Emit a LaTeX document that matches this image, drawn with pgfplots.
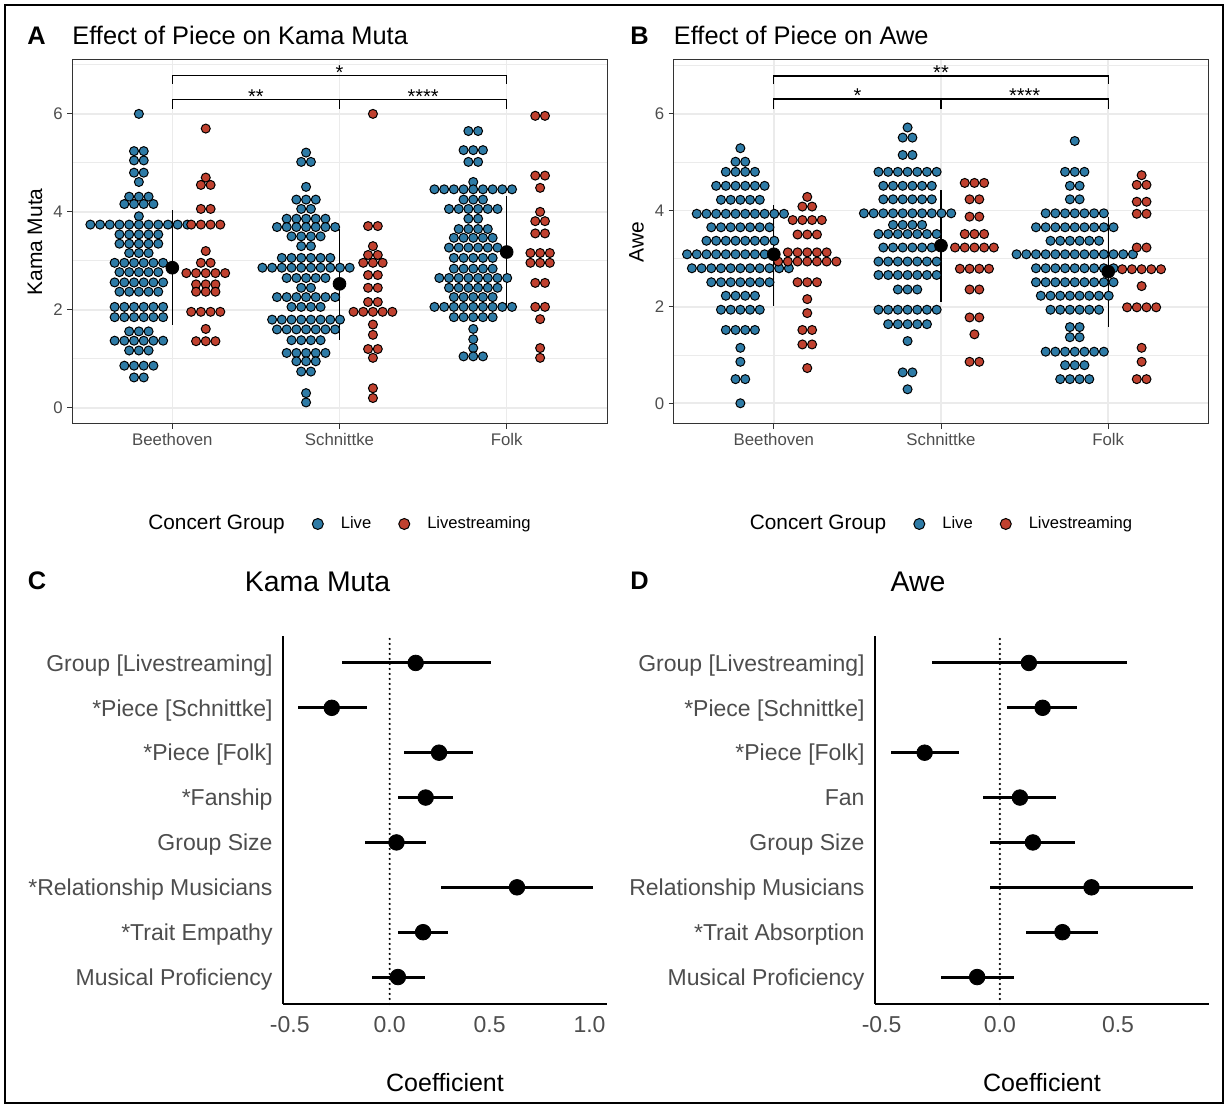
\documentclass[border=0pt]{standalone}
\usepackage{fontspec}
\setmainfont{Liberation Sans}
\usepackage{pgfplots}
\pgfplotsset{compat=1.18}
\definecolor{livec}{HTML}{2E7BA6}
\definecolor{lstreamc}{HTML}{C0412F}
\definecolor{gridc}{HTML}{EBEBEB}
\definecolor{g20}{HTML}{333333}
\definecolor{g30}{HTML}{4D4D4D}
\newcommand{\fsz}[1]{\fontsize{#1}{#1}\selectfont}

\pgfplotsset{
 swarm/.style={
  scale only axis, width=267.5pt, height=182pt, anchor=south west,
  xmin=0.4, xmax=3.6, xtick={1,2,3}, xticklabels={Beethoven,Schnittke,Folk},
  ytick={0,2,4,6}, minor ytick={1,3,5,7},
  xmajorgrids, ymajorgrids, yminorgrids,
  major grid style={gridc, line width=0.8pt},
  minor grid style={gridc, line width=0.45pt},
  axis line style={g20, line width=0.5pt},
  tick pos=left, tick align=outside, major tick length=2.5pt, minor tick length=0pt,
  major tick style={g20, line width=0.5pt},
  tick label style={font=\fsz{8.4}, color=g30, inner sep=2pt},
  /pgf/number format/assume math mode=true,
  ylabel style={font=\fsz{10.5}, at={(axis description cs:-0.069,0.5)}, anchor=center},
  clip=false,
  legend style={at={(0.5,-0.2747)}, anchor=center, draw=none, fill=none, legend columns=-1, font=\fsz{8.3}, /tikz/every even column/.append style={column sep=7.5pt}},
 },
 liveplot/.style={only marks, mark=*, mark size=2.25pt, mark options={fill=livec, draw=black, line width=0.5pt},
   legend image code/.code={\path[draw=none, fill=none] (0pt,-3pt) rectangle (16.5pt,3pt); \draw[##1, mark size=2.75pt] plot coordinates {(7pt,0pt)};}},
 lsplot/.style={only marks, mark=*, mark size=2.25pt, mark options={fill=lstreamc, draw=black, line width=0.5pt},
   legend image code/.code={\path[draw=none, fill=none] (0pt,-3pt) rectangle (16.5pt,3pt); \draw[##1, mark size=2.75pt] plot coordinates {(7pt,0pt)};}},
 meanplot/.style={forget plot, only marks, mark=*, mark size=3.2pt, black, error bars/.cd, y dir=both, y explicit, error mark=none, error bar style={line width=0.6pt, black}},
 brk/.style={forget plot, black, line width=0.6pt},
 forest/.style={
  scale only axis, height=184pt, anchor=south west,
  ymin=0.4, ymax=8.6, ytick={1,2,3,4,5,6,7,8},
  axis x line*=bottom, axis y line*=left,
  axis line style={black, line width=1pt, -},
  every outer x axis line/.append style={-}, every outer y axis line/.append style={-},
  major tick length=0pt, minor tick length=0pt,
  tick label style={font=\fsz{11.5}, color=g30},
  xticklabel style={yshift=-2.5pt, /pgf/number format/fixed, /pgf/number format/fixed zerofill, /pgf/number format/precision=1},
  yticklabel style={anchor=base east, xshift=-1.7pt, yshift=-4.1pt},
  /pgf/number format/assume math mode=true,
  xlabel=Coefficient,
  xlabel style={font=\fsz{12.5}, at={(axis description cs:0.5,0)}, anchor=center, yshift=-39.5pt},
  clip=false,
 },
 coefplot/.style={only marks, mark=*, mark size=3.9pt, black, error bars/.cd, x dir=both, x explicit, error mark=none, error bar style={line width=1.5pt, black}},
 zeroline/.style={forget plot, black, line width=1.2pt, line cap=round, dash pattern=on 0pt off 2.5pt},
}

\begin{document}
\begin{tikzpicture}
\useasboundingbox (0pt,0pt) rectangle (614pt,554pt);
\draw[black, line width=1pt] (2.5pt,2.5pt) rectangle (611.5pt,551.5pt);

% ---------------- Panel A ----------------
\node[anchor=base west, inner sep=0pt, font=\bfseries\fsz{12.7}] at (13.5pt,531.5pt) {A};
\node[anchor=base west, inner sep=0pt, font=\fsz{12.7}] at (36pt,531.5pt) {Effect of Piece on Kama Muta};
\begin{axis}[swarm, at={(36pt,342pt)}, ymin=-0.33, ymax=7.10, ylabel={Kama Muta}]
\addlegendimage{empty legend}\addlegendentry{\fsz{10.4}Concert Group}
\addplot[liveplot] coordinates {
(0.8,6.00)
(0.771,5.24)(0.829,5.24)
(0.771,5.05)(0.829,5.05)
(0.771,4.80)(0.829,4.80)
(0.8,4.61)
(0.742,4.31)(0.8,4.31)(0.858,4.31)
(0.713,4.16)(0.771,4.16)(0.829,4.16)(0.887,4.16)
(0.8,3.91)
(0.51,3.74)(0.568,3.74)(0.626,3.74)(0.684,3.74)(0.742,3.74)(0.8,3.74)(0.858,3.74)(0.916,3.74)(0.974,3.74)(1.032,3.74)(1.09,3.74)
(0.684,3.54)(0.742,3.54)(0.8,3.54)(0.858,3.54)(0.916,3.54)
(0.684,3.35)(0.742,3.35)(0.8,3.35)(0.858,3.35)(0.916,3.35)
(0.742,3.16)(0.8,3.16)(0.858,3.16)
(0.655,2.96)(0.713,2.96)(0.771,2.96)(0.829,2.96)(0.887,2.96)(0.945,2.96)
(0.684,2.77)(0.742,2.77)(0.8,2.77)(0.858,2.77)(0.916,2.77)
(0.655,2.56)(0.713,2.56)(0.771,2.56)(0.829,2.56)(0.887,2.56)(0.945,2.56)
(0.684,2.37)(0.742,2.37)(0.8,2.37)(0.858,2.37)(0.916,2.37)
(0.655,2.06)(0.713,2.06)(0.771,2.06)(0.829,2.06)(0.887,2.06)(0.945,2.06)
(0.655,1.85)(0.713,1.85)(0.771,1.85)(0.829,1.85)(0.887,1.85)(0.945,1.85)
(0.742,1.56)(0.8,1.56)(0.858,1.56)
(0.655,1.37)(0.713,1.37)(0.771,1.37)(0.829,1.37)(0.887,1.37)(0.945,1.37)
(0.742,1.17)(0.8,1.17)(0.858,1.17)
(0.713,0.86)(0.771,0.86)(0.829,0.86)(0.887,0.86)
(0.771,0.62)(0.829,0.62)
(1.8,5.21)
(1.771,5.02)(1.829,5.02)
(1.8,4.51)
(1.742,4.25)(1.8,4.25)(1.858,4.25)
(1.771,4.06)(1.829,4.06)
(1.684,3.86)(1.742,3.86)(1.8,3.86)(1.858,3.86)(1.916,3.86)
(1.626,3.69)(1.684,3.69)(1.742,3.69)(1.8,3.69)(1.858,3.69)(1.916,3.69)(1.974,3.69)
(1.713,3.50)(1.771,3.50)(1.829,3.50)(1.887,3.50)
(1.771,3.30)(1.829,3.30)
(1.655,3.06)(1.713,3.06)(1.771,3.06)(1.829,3.06)(1.887,3.06)(1.945,3.06)
(1.539,2.86)(1.597,2.86)(1.655,2.86)(1.713,2.86)(1.771,2.86)(1.829,2.86)(1.887,2.86)(1.945,2.86)(2.003,2.86)(2.061,2.86)
(1.684,2.65)(1.742,2.65)(1.8,2.65)(1.858,2.65)(1.916,2.65)
(1.771,2.45)(1.829,2.45)
(1.626,2.26)(1.684,2.26)(1.742,2.26)(1.8,2.26)(1.858,2.26)(1.916,2.26)(1.974,2.26)
(1.713,2.06)(1.771,2.06)(1.829,2.06)(1.887,2.06)
(1.597,1.80)(1.655,1.80)(1.713,1.80)(1.771,1.80)(1.829,1.80)(1.887,1.80)(1.945,1.80)(2.003,1.80)
(1.626,1.60)(1.684,1.60)(1.742,1.60)(1.8,1.60)(1.858,1.60)(1.916,1.60)(1.974,1.60)
(1.713,1.38)(1.771,1.38)(1.829,1.38)(1.887,1.38)
(1.684,1.12)(1.742,1.12)(1.8,1.12)(1.858,1.12)(1.916,1.12)
(1.742,0.95)(1.8,0.95)(1.858,0.95)
(1.771,0.74)(1.829,0.74)
(1.8,0.30)
(1.8,0.11)
(2.771,5.65)(2.829,5.65)
(2.742,5.26)(2.8,5.26)(2.858,5.26)
(2.771,5.02)(2.829,5.02)
(2.8,4.61)
(2.568,4.46)(2.626,4.46)(2.684,4.46)(2.742,4.46)(2.8,4.46)(2.858,4.46)(2.916,4.46)(2.974,4.46)(3.032,4.46)
(2.742,4.25)(2.8,4.25)(2.858,4.25)
(2.655,4.06)(2.713,4.06)(2.771,4.06)(2.829,4.06)(2.887,4.06)(2.945,4.06)
(2.771,3.86)(2.829,3.86)
(2.713,3.65)(2.771,3.65)(2.829,3.65)(2.887,3.65)
(2.684,3.47)(2.742,3.47)(2.8,3.47)(2.858,3.47)(2.916,3.47)
(2.655,3.27)(2.713,3.27)(2.771,3.27)(2.829,3.27)(2.887,3.27)(2.945,3.27)
(2.684,3.06)(2.742,3.06)(2.8,3.06)(2.858,3.06)(2.916,3.06)
(2.684,2.84)(2.742,2.84)(2.8,2.84)(2.858,2.84)(2.916,2.84)
(2.597,2.65)(2.655,2.65)(2.713,2.65)(2.771,2.65)(2.829,2.65)(2.887,2.65)(2.945,2.65)(3.003,2.65)
(2.655,2.45)(2.713,2.45)(2.771,2.45)(2.829,2.45)(2.887,2.45)(2.945,2.45)
(2.684,2.26)(2.742,2.26)(2.8,2.26)(2.858,2.26)(2.916,2.26)
(2.568,2.06)(2.626,2.06)(2.684,2.06)(2.742,2.06)(2.8,2.06)(2.858,2.06)(2.916,2.06)(2.974,2.06)(3.032,2.06)
(2.684,1.85)(2.742,1.85)(2.8,1.85)(2.858,1.85)(2.916,1.85)
(2.8,1.61)
(2.8,1.40)
(2.8,1.22)
(2.742,1.05)(2.8,1.05)(2.858,1.05)
};
\addlegendentry{Live}
\addplot[lsplot] coordinates {
(1.2,5.70)
(1.2,4.70)
(1.171,4.55)(1.229,4.55)
(1.171,4.06)(1.229,4.06)
(1.113,3.74)(1.171,3.74)(1.229,3.74)(1.287,3.74)
(1.2,3.20)
(1.171,2.96)(1.229,2.96)
(1.084,2.75)(1.142,2.75)(1.2,2.75)(1.258,2.75)(1.316,2.75)
(1.142,2.52)(1.2,2.52)(1.258,2.52)
(1.142,2.37)(1.2,2.37)(1.258,2.37)
(1.113,1.96)(1.171,1.96)(1.229,1.96)(1.287,1.96)
(1.2,1.61)
(1.142,1.36)(1.2,1.36)(1.258,1.36)
(2.2,6.00)
(2.171,3.71)(2.229,3.71)
(2.2,3.30)
(2.171,3.12)(2.229,3.12)
(2.142,2.96)(2.2,2.96)(2.258,2.96)
(2.171,2.71)(2.229,2.71)
(2.171,2.45)(2.229,2.45)
(2.171,2.16)(2.229,2.16)
(2.084,1.96)(2.142,1.96)(2.2,1.96)(2.258,1.96)(2.316,1.96)
(2.2,1.70)
(2.2,1.49)
(2.171,1.20)(2.229,1.20)
(2.2,1.02)
(2.2,0.40)
(2.2,0.20)
(3.171,5.96)(3.229,5.96)
(3.171,4.74)(3.229,4.74)
(3.2,4.49)
(3.2,4.00)
(3.171,3.81)(3.229,3.81)
(3.171,3.56)(3.229,3.56)
(3.142,3.16)(3.2,3.16)(3.258,3.16)
(3.142,2.96)(3.2,2.96)(3.258,2.96)
(3.171,2.55)(3.229,2.55)
(3.171,2.06)(3.229,2.06)
(3.2,1.81)
(3.2,1.22)
(3.2,1.02)
};
\addlegendentry{Livestreaming}
\addplot[meanplot] coordinates {(1,2.86) += (0,1.18) -= (0,1.16) (2,2.53) += (0,1.12) -= (0,1.14) (3,3.18) += (0,1.14) -= (0,1.12)};
\addplot[brk] coordinates {(1,6.10) (1,6.29) (3,6.29) (3,6.10)};
\addplot[brk] coordinates {(2,6.29) (2,6.10)};
\addplot[brk] coordinates {(1,6.61) (1,6.78) (3,6.78) (3,6.61)};
\node[anchor=base, font=\fsz{10}, yshift=-1.9pt] at (axis cs:2,6.78) {*};
\node[anchor=base, font=\fsz{10}, yshift=-1.9pt] at (axis cs:1.5,6.29) {**};
\node[anchor=base, font=\fsz{10}, yshift=-1.9pt] at (axis cs:2.5,6.29) {****};
\end{axis}

% ---------------- Panel B ----------------
\node[anchor=base west, inner sep=0pt, font=\bfseries\fsz{12.7}] at (315pt,531.5pt) {B};
\node[anchor=base west, inner sep=0pt, font=\fsz{12.7}] at (336.75pt,531.5pt) {Effect of Piece on Awe};
\begin{axis}[swarm, at={(336.75pt,342pt)}, ymin=-0.43, ymax=7.12, ylabel={Awe}]
\addlegendimage{empty legend}\addlegendentry{\fsz{10.4}Concert Group}
\addplot[liveplot] coordinates {
(0.8,5.29)
(0.771,5.01)(0.829,5.01)
(0.713,4.80)(0.771,4.80)(0.829,4.80)(0.887,4.80)
(0.655,4.51)(0.713,4.51)(0.771,4.51)(0.829,4.51)(0.887,4.51)(0.945,4.51)
(0.684,4.22)(0.742,4.22)(0.8,4.22)(0.858,4.22)(0.916,4.22)
(0.539,3.93)(0.597,3.93)(0.655,3.93)(0.713,3.93)(0.771,3.93)(0.829,3.93)(0.887,3.93)(0.945,3.93)(1.003,3.93)(1.061,3.93)
(0.626,3.65)(0.684,3.65)(0.742,3.65)(0.8,3.65)(0.858,3.65)(0.916,3.65)(0.974,3.65)
(0.597,3.37)(0.655,3.37)(0.713,3.37)(0.771,3.37)(0.829,3.37)(0.887,3.37)(0.945,3.37)(1.003,3.37)
(0.481,3.09)(0.539,3.09)(0.597,3.09)(0.655,3.09)(0.713,3.09)(0.771,3.09)(0.829,3.09)(0.887,3.09)(0.945,3.09)(1.003,3.09)
(0.51,2.80)(0.568,2.80)(0.626,2.80)(0.684,2.80)(0.742,2.80)(0.8,2.80)(0.858,2.80)(0.916,2.80)(0.974,2.80)(1.032,2.80)(1.09,2.80)
(0.626,2.51)(0.684,2.51)(0.742,2.51)(0.8,2.51)(0.858,2.51)(0.916,2.51)(0.974,2.51)
(0.713,2.23)(0.771,2.23)(0.829,2.23)(0.887,2.23)
(0.684,1.94)(0.742,1.94)(0.8,1.94)(0.858,1.94)(0.916,1.94)
(0.713,1.52)(0.771,1.52)(0.829,1.52)(0.887,1.52)
(0.8,1.15)
(0.8,0.86)
(0.771,0.50)(0.829,0.50)
(0.8,0.00)
(1.8,5.72)
(1.771,5.51)(1.829,5.51)
(1.771,5.15)(1.829,5.15)
(1.626,4.80)(1.684,4.80)(1.742,4.80)(1.8,4.80)(1.858,4.80)(1.916,4.80)(1.974,4.80)
(1.655,4.51)(1.713,4.51)(1.771,4.51)(1.829,4.51)(1.887,4.51)(1.945,4.51)
(1.655,4.23)(1.713,4.23)(1.771,4.23)(1.829,4.23)(1.887,4.23)(1.945,4.23)
(1.539,3.94)(1.597,3.94)(1.655,3.94)(1.713,3.94)(1.771,3.94)(1.829,3.94)(1.887,3.94)(1.945,3.94)(2.003,3.94)(2.061,3.94)
(1.713,3.70)(1.771,3.70)(1.829,3.70)(1.887,3.70)
(1.626,3.51)(1.684,3.51)(1.742,3.51)(1.8,3.51)(1.858,3.51)(1.916,3.51)(1.974,3.51)
(1.655,3.23)(1.713,3.23)(1.771,3.23)(1.829,3.23)(1.887,3.23)(1.945,3.23)
(1.626,2.94)(1.684,2.94)(1.742,2.94)(1.8,2.94)(1.858,2.94)(1.916,2.94)(1.974,2.94)
(1.626,2.66)(1.684,2.66)(1.742,2.66)(1.8,2.66)(1.858,2.66)(1.916,2.66)(1.974,2.66)
(1.742,2.36)(1.8,2.36)(1.858,2.36)
(1.626,1.94)(1.684,1.94)(1.742,1.94)(1.8,1.94)(1.858,1.94)(1.916,1.94)(1.974,1.94)
(1.684,1.64)(1.742,1.64)(1.8,1.64)(1.858,1.64)(1.916,1.64)
(1.8,1.29)
(1.771,0.64)(1.829,0.64)
(1.8,0.29)
(2.8,5.44)
(2.742,4.80)(2.8,4.80)(2.858,4.80)
(2.771,4.51)(2.829,4.51)
(2.771,4.23)(2.829,4.23)
(2.626,3.94)(2.684,3.94)(2.742,3.94)(2.8,3.94)(2.858,3.94)(2.916,3.94)(2.974,3.94)
(2.568,3.65)(2.626,3.65)(2.684,3.65)(2.742,3.65)(2.8,3.65)(2.858,3.65)(2.916,3.65)(2.974,3.65)(3.032,3.65)
(2.655,3.37)(2.713,3.37)(2.771,3.37)(2.829,3.37)(2.887,3.37)(2.945,3.37)
(2.452,3.09)(2.51,3.09)(2.568,3.09)(2.626,3.09)(2.684,3.09)(2.742,3.09)(2.8,3.09)(2.858,3.09)(2.916,3.09)(2.974,3.09)(3.032,3.09)(3.09,3.09)(3.148,3.09)
(2.568,2.80)(2.626,2.80)(2.684,2.80)(2.742,2.80)(2.8,2.80)(2.858,2.80)(2.916,2.80)(2.974,2.80)(3.032,2.80)
(2.568,2.51)(2.626,2.51)(2.684,2.51)(2.742,2.51)(2.8,2.51)(2.858,2.51)(2.916,2.51)(2.974,2.51)(3.032,2.51)
(2.597,2.23)(2.655,2.23)(2.713,2.23)(2.771,2.23)(2.829,2.23)(2.887,2.23)(2.945,2.23)(3.003,2.23)
(2.655,1.94)(2.713,1.94)(2.771,1.94)(2.829,1.94)(2.887,1.94)(2.945,1.94)
(2.771,1.58)(2.829,1.58)
(2.771,1.37)(2.829,1.37)
(2.626,1.07)(2.684,1.07)(2.742,1.07)(2.8,1.07)(2.858,1.07)(2.916,1.07)(2.974,1.07)
(2.742,0.79)(2.8,0.79)(2.858,0.79)
(2.713,0.50)(2.771,0.50)(2.829,0.50)(2.887,0.50)
};
\addlegendentry{Live}
\addplot[lsplot] coordinates {
(1.2,4.28)
(1.171,4.08)(1.229,4.08)
(1.113,3.80)(1.171,3.80)(1.229,3.80)(1.287,3.80)
(1.142,3.50)(1.2,3.50)(1.258,3.50)
(1.084,3.13)(1.142,3.13)(1.2,3.13)(1.258,3.13)(1.316,3.13)
(1.026,2.94)(1.084,2.94)(1.142,2.94)(1.2,2.94)(1.258,2.94)(1.316,2.94)(1.374,2.94)
(1.142,2.51)(1.2,2.51)(1.258,2.51)
(1.2,2.16)
(1.2,1.87)
(1.171,1.52)(1.229,1.52)
(1.171,1.22)(1.229,1.22)
(1.2,0.73)
(2.142,4.57)(2.2,4.57)(2.258,4.57)
(2.171,4.23)(2.229,4.23)
(2.171,3.87)(2.229,3.87)
(2.142,3.51)(2.2,3.51)(2.258,3.51)
(2.084,3.23)(2.142,3.23)(2.2,3.23)(2.258,3.23)(2.316,3.23)
(2.113,2.79)(2.171,2.79)(2.229,2.79)(2.287,2.79)
(2.171,2.36)(2.229,2.36)
(2.171,1.78)(2.229,1.78)
(2.2,1.43)
(2.171,0.86)(2.229,0.86)
(3.2,4.73)
(3.171,4.53)(3.229,4.53)
(3.171,4.18)(3.229,4.18)
(3.171,3.93)(3.229,3.93)
(3.171,3.23)(3.229,3.23)
(3.084,2.78)(3.142,2.78)(3.2,2.78)(3.258,2.78)(3.316,2.78)
(3.2,2.43)
(3.113,1.99)(3.171,1.99)(3.229,1.99)(3.287,1.99)
(3.2,1.15)
(3.2,0.86)
(3.171,0.50)(3.229,0.50)
};
\addlegendentry{Livestreaming}
\addplot[meanplot] coordinates {(1,3.09) += (0,1.02) -= (0,1.07) (2,3.27) += (0,1.15) -= (0,1.16) (3,2.73) += (0,1.14) -= (0,1.14)};
\addplot[brk] coordinates {(1,6.10) (1,6.31) (3,6.31) (3,6.10)};
\addplot[brk] coordinates {(2,6.31) (2,6.10)};
\addplot[brk] coordinates {(1,6.62) (1,6.79) (3,6.79) (3,6.62)};
\node[anchor=base, font=\fsz{10}, yshift=-1.9pt] at (axis cs:2,6.79) {**};
\node[anchor=base, font=\fsz{10}, yshift=-1.9pt] at (axis cs:1.5,6.31) {*};
\node[anchor=base, font=\fsz{10}, yshift=-1.9pt] at (axis cs:2.5,6.31) {****};
\end{axis}

% ---------------- Panel C ----------------
\node[anchor=base west, inner sep=0pt, font=\bfseries\fsz{12.7}] at (13.7pt,259pt) {C};
\node[anchor=base, font=\fsz{14.2}] at (158.8pt,258pt) {Kama Muta};
\begin{axis}[forest, at={(141.5pt,52pt)}, width=162pt, xmin=-0.534, xmax=1.0875, xtick={-0.5,0,0.5,1},
  yticklabels={Musical Proficiency,*Trait Empathy,*Relationship Musicians,Group Size,*Fanship,{*Piece [Folk]},{*Piece [Schnittke]},{Group [Livestreaming]}}]
\addplot[zeroline] coordinates {(0,0.4) (0,8.6)};
\addplot[coefplot] coordinates {
(0.13,8) += (0.376,0) -= (0.37,0)
(-0.29,7) += (0.175,0) -= (0.17,0)
(0.247,6) += (0.17,0) -= (0.174,0)
(0.18,5) += (0.136,0) -= (0.14,0)
(0.034,4) += (0.146,0) -= (0.157,0)
(0.637,3) += (0.378,0) -= (0.38,0)
(0.167,2) += (0.127,0) -= (0.127,0)
(0.041,1) += (0.135,0) -= (0.131,0)
};
\end{axis}

% ---------------- Panel D ----------------
\node[anchor=base west, inner sep=0pt, font=\bfseries\fsz{12.7}] at (315pt,259pt) {D};
\node[anchor=base, font=\fsz{14.2}] at (459pt,258pt) {Awe};
\begin{axis}[forest, at={(437.5pt,52pt)}, width=167pt, xmin=-0.528, xmax=0.885, xtick={-0.5,0,0.5},
  yticklabels={Musical Proficiency,*Trait Absorption,Relationship Musicians,Group Size,Fan,{*Piece [Folk]},{*Piece [Schnittke]},{Group [Livestreaming]}}]
\addplot[zeroline] coordinates {(0,0.4) (0,8.6)};
\addplot[coefplot] coordinates {
(0.123,8) += (0.414,0) -= (0.411,0)
(0.181,7) += (0.144,0) -= (0.149,0)
(-0.318,6) += (0.146,0) -= (0.144,0)
(0.085,5) += (0.153,0) -= (0.156,0)
(0.14,4) += (0.176,0) -= (0.181,0)
(0.388,3) += (0.43,0) -= (0.431,0)
(0.265,2) += (0.152,0) -= (0.155,0)
(-0.096,1) += (0.156,0) -= (0.154,0)
};
\end{axis}
\end{tikzpicture}
\end{document}
